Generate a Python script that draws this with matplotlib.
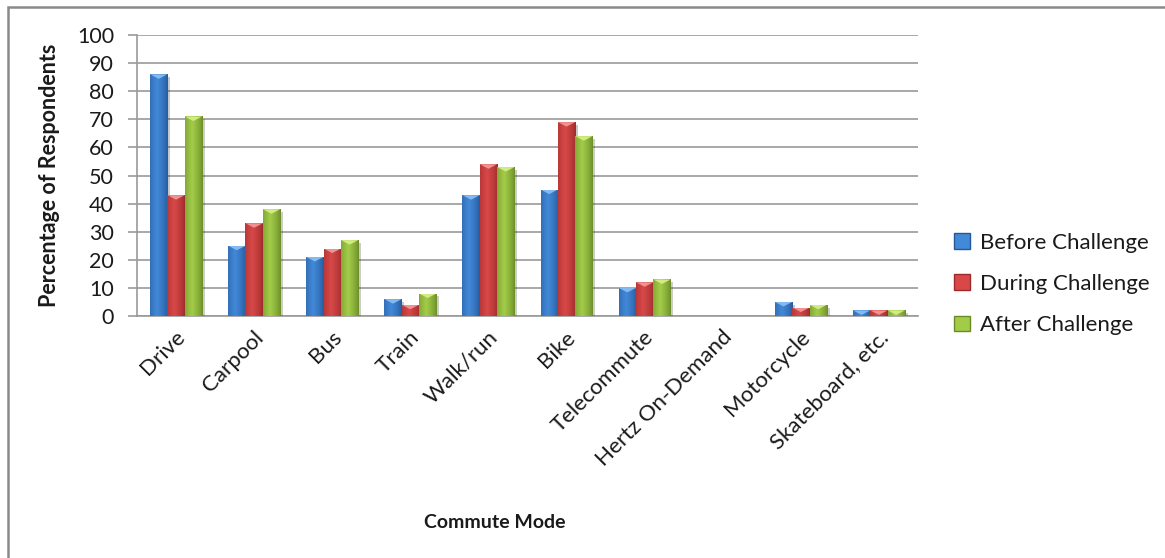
import matplotlib
matplotlib.use('Agg')
import matplotlib.pyplot as plt
import numpy as np
from matplotlib.patches import Rectangle, Polygon, Patch
from matplotlib.transforms import ScaledTranslation
from matplotlib import patheffects

plt.rcParams['font.family'] = ['Lato', 'DejaVu Sans']

modes = ['Drive', 'Carpool', 'Bus', 'Train', 'Walk/run', 'Bike', 'Telecommute',
         'Hertz On-Demand', 'Motorcycle', 'Skateboard, etc.']
before = [86, 25, 21, 6, 43, 45, 10, 0, 5, 2]
during = [43, 33, 24, 4, 54, 69, 12, 0, 3, 2]
after = [71, 38, 27, 8, 53, 64, 13, 0, 4, 2]
series_names = ['Before Challenge', 'During Challenge', 'After Challenge']

# edge, middle, bevel highlight for each series
palettes = [
    ('#25589a', '#4289d8', '#8cc0f5'),
    ('#9c2a2a', '#d84848', '#f59a9a'),
    ('#6a8a28', '#a2cc48', '#d8f08a'),
]

fig = plt.figure(figsize=(11.65, 5.58), dpi=100)
ax = fig.add_axes([137 / 1165, 1 - 316 / 558, (918 - 137) / 1165, (316 - 35) / 558])

x = np.arange(len(modes))
w = 0.222
bevel = 1.6


def gradient_bar(ax, xc, h, cols):
    edge, mid, hi = [np.array(matplotlib.colors.to_rgb(c)) for c in cols]
    if h <= 0:
        return
    x0, x1 = xc - w / 2, xc + w / 2
    rect = Rectangle((x0, 0), w, h, facecolor=mid, edgecolor='none', zorder=3)
    rect.set_path_effects([patheffects.SimplePatchShadow(offset=(2, -2), alpha=0.25),
                           patheffects.Normal()])
    ax.add_patch(rect)
    t = np.linspace(0, 1, 64)
    prof = np.clip(1 - np.abs(t - 0.4) / 0.6, 0, 1) ** 0.7
    img = edge[None, :] * (1 - prof[:, None]) + mid[None, :] * prof[:, None]
    im = ax.imshow(img[None, :, :], extent=(x0, x1, 0, h), aspect='auto',
                   zorder=4, interpolation='bilinear')
    im.set_clip_path(rect)
    tri = Polygon([(x0, h), (x1, h), (xc, h - bevel)], closed=True,
                  facecolor=hi, edgecolor='none', zorder=5, alpha=0.9)
    ax.add_patch(tri)
    tri.set_clip_path(rect)


for i, vals in enumerate([before, during, after]):
    for xi, v in zip(x, vals):
        gradient_bar(ax, xi + (i - 1) * w, v, palettes[i])

ax.set_xlim(-0.5, len(modes) - 0.5)
ax.set_ylim(0, 100)
ax.set_yticks(range(0, 101, 10))
ax.yaxis.grid(True, color='#9a9a9a', linewidth=1.2, zorder=0)
ax.set_axisbelow(True)
for s in ['top', 'right']:
    ax.spines[s].set_visible(False)
ax.spines['left'].set_color('#9a9a9a')
ax.spines['bottom'].set_color('#9a9a9a')
ax.spines['left'].set_linewidth(1.2)
ax.spines['bottom'].set_linewidth(1.2)
ax.tick_params(axis='y', length=6.5, width=1.2, color='#9a9a9a', labelsize=15.5,
               labelcolor='#1a1a1a', pad=10)
ax.tick_params(axis='x', length=0, labelsize=16, labelcolor='#1a1a1a', pad=13)
ax.set_xticks(x)
ax.set_xticklabels(modes, rotation=45, ha='right', va='center', rotation_mode='anchor')
shift = ScaledTranslation(6 / 100, 0, fig.dpi_scale_trans)
for lbl in ax.get_xticklabels():
    lbl.set_transform(lbl.get_transform() + shift)

ax.set_ylabel('Percentage of Respondents', fontsize=15.5, fontweight='bold',
              color='#1a1a1a', labelpad=12)
fig.text(495 / 1165, 1 - 523 / 558, 'Commute Mode', fontsize=14,
         fontweight='bold', color='#1a1a1a', ha='center', va='center')

handles = [Patch(facecolor=p[1], edgecolor=p[0], label=n)
           for p, n in zip(palettes, series_names)]
fig.legend(handles=handles, loc='center left', bbox_to_anchor=(934 / 1165, 1 - 284 / 558),
           frameon=False, fontsize=16, labelspacing=0.95, handlelength=0.7,
           handleheight=0.7, handletextpad=0.45, labelcolor='#1a1a1a')

fig.add_artist(Rectangle((8 / 1165, -0.05), 1.1, 1 - 7 / 558 + 0.05,
                         transform=fig.transFigure, fill=False,
                         edgecolor='#8a8a8a', linewidth=1.8))

fig.savefig('out.png', dpi=100)
